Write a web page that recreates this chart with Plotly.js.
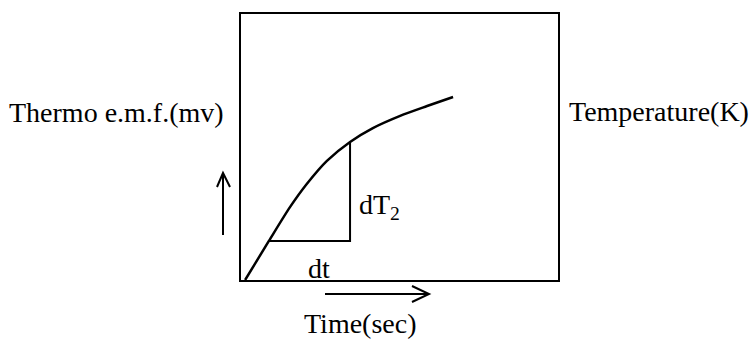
<!DOCTYPE html>
<html>
<head>
<meta charset="utf-8">
<script src="https://cdn.plot.ly/plotly-3.0.1.min.js"></script>
<style>
  html, body { margin: 0; padding: 0; background: #fff; }
  #chart { width: 751px; height: 339px; }
</style>
</head>
<body>
<div id="chart"></div>
<script>
// curve (time, temperature in arbitrary units)
var timeVals = [0.13, 0.88, 1.55, 2.08, 2.71, 3.44, 4.16, 5.02, 5.87, 6.69];
var tempVals = [0.00, 1.47, 2.75, 3.62, 4.48, 5.19, 5.71, 6.17, 6.54, 6.88];

// slope triangle: dt along the bottom, dT2 up to the curve
var triX = [0.88, 3.44, 3.44];
var triY = [1.47, 1.47, 5.19];

// plot area in pixels, used for the labels and arrows around it
var L = 241, R = 558, T = 14, B = 280;
function px(x) { return (x - L) / (R - L); }
function py(y) { return (B - y) / (B - T); }

var ink = '#000';
var serif = '"Liberation Serif", "Times New Roman", serif';

var data = [{
  x: timeVals,
  y: tempVals,
  mode: 'lines',
  line: {color: ink, width: 2.5, shape: 'spline', smoothing: 0.8},
  hoverinfo: 'skip'
}, {
  x: triX,
  y: triY,
  mode: 'lines',
  line: {color: ink, width: 2},
  hoverinfo: 'skip'
}];

var axis = {
  range: [0, 10],
  showline: true,
  mirror: true,
  linewidth: 2,
  linecolor: ink,
  showgrid: false,
  zeroline: false,
  ticks: '',
  showticklabels: false,
  fixedrange: true
};

function label(text, x, y, anchor) {
  return {
    text: text, xref: 'paper', yref: 'paper',
    x: px(x), y: py(y), xanchor: anchor || 'center', yanchor: 'middle',
    showarrow: false,
    font: {family: serif, size: 28, color: ink}
  };
}

function path(pts) {
  var d = pts.map(function (p, i) {
    return (i ? 'L' : 'M') + px(p[0]) + ',' + py(p[1]);
  }).join(' ');
  return {type: 'path', xref: 'paper', yref: 'paper', path: d,
          line: {color: ink, width: 2}};
}

var layout = {
  width: 751,
  height: 339,
  margin: {l: L, r: 751 - R, t: T, b: 339 - B},
  paper_bgcolor: '#fff',
  plot_bgcolor: '#fff',
  showlegend: false,
  xaxis: axis,
  yaxis: axis,
  annotations: [
    label('Thermo e.m.f.(mv)', 116, 113),
    label('Temperature(K)', 659, 111),
    label('dT<sub>2</sub>', 357, 206, 'left'),
    label('dt', 319, 268),
    label('Time(sec)', 360, 323)
  ],
  shapes: [
    path([[223, 235], [223, 173]]),
    path([[217, 187], [223, 173], [230, 187]]),
    path([[325, 294], [429, 294]]),
    path([[412, 286], [429, 294], [412, 302]])
  ]
};

Plotly.newPlot('chart', data, layout, {displayModeBar: false, staticPlot: true});
</script>
</body>
</html>
